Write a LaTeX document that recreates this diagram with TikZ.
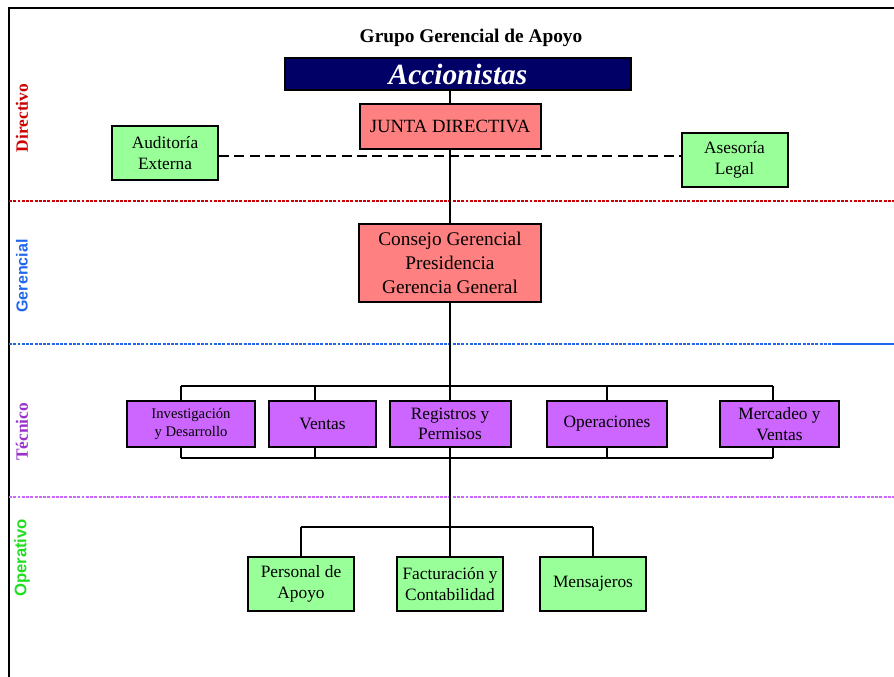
\documentclass[tikz,border=0pt]{standalone}
\usepackage{fontspec}
\setmainfont{Liberation Serif}
\newfontfamily\labelsans{Liberation Sans}
\definecolor{navybox}{HTML}{000066}
\definecolor{pinkbox}{HTML}{FF8080}
\definecolor{greenbox}{HTML}{99FF99}
\definecolor{purplebox}{HTML}{CC66FF}
\definecolor{dirred}{HTML}{CC0000}
\definecolor{gerblue}{HTML}{2266EE}
\definecolor{tecpurple}{HTML}{9933CC}
\definecolor{opgreen}{HTML}{22DD22}
\begin{document}
\begin{tikzpicture}
        [x=0.75pt, y=-0.75pt,
        box/.style={rectangle, draw, line width=1.5pt, align=center, inner sep=0pt, font=\fontsize{13}{15.5}\selectfont},
        pinkbox/.style={box, fill=pinkbox, font=\fontsize{14.5}{18}\selectfont},
        greenbox/.style={box, fill=greenbox, minimum width=79.5pt, minimum height=40.5pt},
        tecbox/.style={box, fill=purplebox, minimum height=34.5pt},
        edge/.style={line width=1.4pt, black},
        sidelabel/.style={rotate=90, font=\bfseries\fontsize{13}{14}\selectfont},
        levelline/.style={line width=2.2pt, densely dotted}]

        \useasboundingbox (0,0) rectangle (894,677);

        % frame
        \draw[line width=1.5pt] (9,677) -- (9,8) -- (894,8);

        % title and top boxes
        \node[font=\bfseries\fontsize{14.5}{16}\selectfont] (title) at (471,38) {Grupo Gerencial de Apoyo};
        \node[box, fill=navybox, text=white, minimum width=259.5pt, minimum height=24pt,
              font=\bfseries\itshape\fontsize{22}{24}\selectfont] (acc) at (458,74) {Accionistas};
        \node[pinkbox, minimum width=135.75pt, minimum height=33.75pt, font=\fontsize{14}{16}\selectfont] (junta) at (450,126.5) {JUNTA DIRECTIVA};
        \node[greenbox] (aud) at (165,153) {Auditoría\\Externa};
        \node[greenbox] (ases) at (734.5,160) {Asesoría\\Legal};
        \node[pinkbox, minimum width=136.5pt, minimum height=58.5pt] (consejo) at (450,263) {Consejo Gerencial\\Presidencia\\Gerencia General};

        % tecnico row
        \node[tecbox, minimum width=96pt, font=\fontsize{11}{14}\selectfont] (inv) at (191,424) {Investigación\\y Desarrollo};
        \node[tecbox, minimum width=80.25pt] (ven) at (322.5,424) {Ventas};
        \node[tecbox, minimum width=90.75pt] (reg) at (450,424) {Registros y\\Permisos};
        \node[tecbox, minimum width=90pt] (ope) at (607,424) {Operaciones};
        \node[tecbox, minimum width=89.25pt] (mer) at (779.5,424) {Mercadeo y\\Ventas};

        % operativo row
        \node[greenbox] (per) at (301,584) {Personal de\\Apoyo};
        \node[greenbox] (fac) at (450,584) {Facturación y\\Contabilidad};
        \node[greenbox] (men) at (593,584) {Mensajeros};

        % level labels
        \node[sidelabel, text=dirred] (ldir) at (22,118) {Directivo};
        \node[sidelabel, text=gerblue, font=\labelsans\bfseries\fontsize{12}{13}\selectfont] (lger) at (22,276) {Gerencial};
        \node[sidelabel, text=tecpurple] (ltec) at (22,432) {Técnico};
        \node[sidelabel, text=opgreen, font=\labelsans\bfseries\fontsize{12.5}{13}\selectfont] (lope) at (22,558) {Operativo};

        % level separators
        \draw[levelline, dirred] (9,201) -- (894,201);
        \draw[levelline, gerblue] (9,344) -- (832,344);
        \draw[line width=2pt, gerblue] (832,344) -- (894,344);
        \draw[levelline, purplebox] (9,497) -- (894,497);

        % main line
        \draw[edge] (acc.south -| junta.north) -- (junta);
        \draw[edge] (junta) -- (consejo);
        \draw[edge] (consejo) -- (reg);
        \draw[edge] (reg) -- (fac);

        % advisers
        \draw[edge, dash pattern=on 7.5pt off 4pt] (aud.east |- 0,156) -- (ases.west |- 0,156);

        % tecnico buses
        \coordinate (tl) at (181,386);
        \coordinate (tr) at (773,386);
        \coordinate (bl) at (181,458);
        \coordinate (br) at (773,458);
        \draw[edge] (tl) -- (tr);
        \draw[edge] (bl) -- (br);
        \foreach \n/\x in {inv/181, ven/315, ope/607, mer/773} {
            \draw[edge] (\n.north -| \x,0) -- (\x,386);
            \draw[edge] (\n.south -| \x,0) -- (\x,458);
        }

        % operativo bus
        \coordinate (ol) at (301,527);
        \coordinate (or) at (593,527);
        \draw[edge] (ol) -- (or);
        \draw[edge] (ol) -- (per);
        \draw[edge] (or) -- (men);

        \end{tikzpicture}
\end{document}
